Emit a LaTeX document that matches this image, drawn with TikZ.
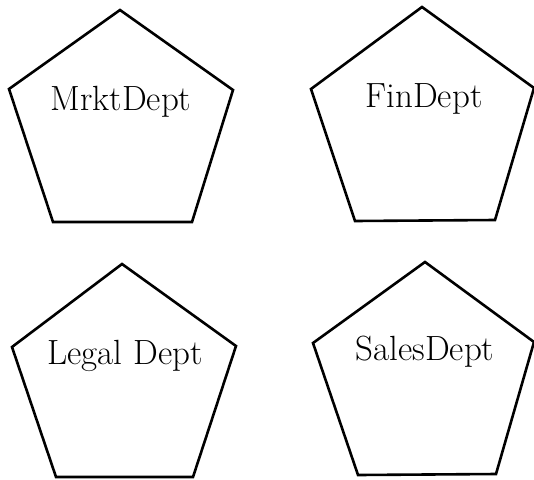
\documentclass[tikz,border=0pt]{standalone}
\begin{document}
\begin{tikzpicture}[x=1pt,y=-1pt,
  pent/.style={draw=black,line width=2.6pt,line join=miter},
  lbl/.style={anchor=base,inner sep=0pt,font=\fontsize{35}{35}\selectfont}]
\useasboundingbox (0,0) rectangle (534,479);
% top-left pentagon
\draw[pent] (120,10) -- (233,90) -- (192,222) -- (53,222) -- (9,89) -- cycle;
\node[lbl] (mrkt) at (121,110) {MrktDept};
% top-right pentagon
\draw[pent] (422,7) -- (534,88) -- (495,220) -- (355,221) -- (311,89) -- cycle;
\node[lbl] (fin) at (424,107) {FinDept};
% bottom-left pentagon
\draw[pent] (122,264) -- (236,346) -- (193,477) -- (56,477) -- (12,347) -- cycle;
\node[lbl] (legal) at (125,364) {Legal Dept};
% bottom-right pentagon
\draw[pent] (425,262) -- (534,342) -- (496,474) -- (358,475) -- (313,343) -- cycle;
\node[lbl] (sales) at (425,360) {SalesDept};
\end{tikzpicture}
\end{document}
